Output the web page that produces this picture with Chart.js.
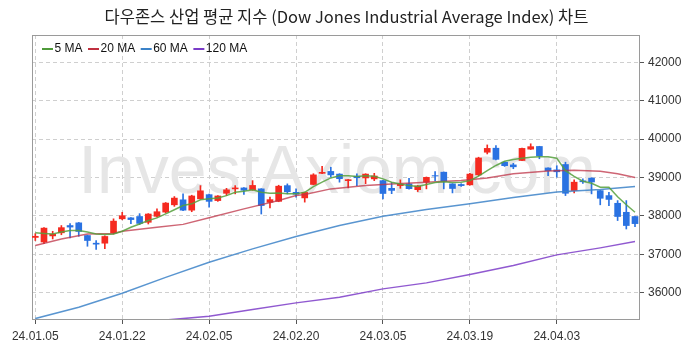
<!DOCTYPE html>
<html>
<head>
<meta charset="utf-8">
<script src="https://cdn.jsdelivr.net/npm/chart.js@4.4.1/dist/chart.umd.min.js"></script>
<style>
  html, body { margin: 0; padding: 0; background: #fff; }
  #wrap { width: 693px; height: 353px; }
</style>
</head>
<body>
<div id="wrap"><canvas id="djiChart"></canvas></div>
<script>
// trading days, 24.01.05 .. 24.04.16
const dates = [
  '24.01.05','24.01.08','24.01.09','24.01.10','24.01.11','24.01.12','24.01.16','24.01.17','24.01.18','24.01.19',
  '24.01.22','24.01.23','24.01.24','24.01.25','24.01.26','24.01.29','24.01.30','24.01.31','24.02.01','24.02.02',
  '24.02.05','24.02.06','24.02.07','24.02.08','24.02.09','24.02.12','24.02.13','24.02.14','24.02.15','24.02.16',
  '24.02.20','24.02.21','24.02.22','24.02.23','24.02.26','24.02.27','24.02.28','24.02.29','24.03.01','24.03.04',
  '24.03.05','24.03.06','24.03.07','24.03.08','24.03.11','24.03.12','24.03.13','24.03.14','24.03.15','24.03.18',
  '24.03.19','24.03.20','24.03.21','24.03.22','24.03.25','24.03.26','24.03.27','24.03.28','24.04.01','24.04.02',
  '24.04.03','24.04.04','24.04.05','24.04.08','24.04.09','24.04.10','24.04.11','24.04.12','24.04.15','24.04.16'
];

const opens = [
  37440,37320,37480,37560,37750,37820,37490,37290,37290,37560,
  37925,37950,37985,37835,37990,38100,38290,38420,38150,38445,
  38555,38400,38590,38705,38730,38680,38705,38355,38380,38790,
  38615,38470,38820,39110,39160,39090,38920,39035,38990,38965,
  38920,38720,38790,38835,38685,38880,39050,39140,38835,38820,
  38810,39070,39660,39765,39400,39330,39445,39740,39810,39250,
  39200,39340,38660,38915,38985,38660,38530,38330,38095,37985
];
const highs = [
  37540,37700,37600,37750,37800,37830,37500,37360,37480,37925,
  38095,37960,38060,38060,38185,38350,38505,38575,38540,38790,
  38570,38530,38720,38790,38740,38920,38710,38490,38800,38835,
  38705,38620,39100,39290,39270,39100,38950,39100,39100,39110,
  38930,38870,38940,38980,38795,39015,39155,39145,38840,38840,
  39110,39530,39850,39830,39410,39370,39770,39880,39815,39255,
  39310,39400,38940,38965,38995,38665,38615,38400,38400,37990
];
const lows = [
  37360,37280,37400,37510,37430,37470,37210,37125,37150,37530,
  37900,37800,37775,37790,37965,38080,38250,38140,38110,38440,
  38230,38380,38530,38575,38560,38670,38050,38210,38370,38575,
  38490,38360,38810,39100,39010,38880,38730,38790,38840,38920,
  38445,38580,38720,38700,38635,38705,38920,38705,38600,38770,
  38800,39050,39615,39460,39290,39230,39440,39730,39490,39050,
  39010,38530,38600,38850,38575,38290,38270,37880,37660,37720
];
const closes = [
  37470,37683,37525,37695,37710,37595,37360,37265,37465,37865,
  38005,37905,37805,38050,38110,38335,38465,38150,38520,38655,
  38380,38520,38680,38730,38670,38795,38270,38425,38775,38630,
  38565,38612,39070,39135,39070,38970,38945,38995,39090,39040,
  38585,38665,38830,38710,38780,39005,39040,38905,38715,38790,
  39090,39510,39760,39475,39310,39280,39760,39805,39565,39180,
  39150,38590,38880,38890,38885,38460,38430,37985,37750,37800
];

const ma5 = [
  37560,37545,37530,37580,37620,37620,37580,37530,37515,37530,
  37600,37705,37790,37880,37950,38055,38160,38270,38315,38420,
  38445,38465,38530,38615,38645,38680,38615,38590,38600,38575,
  38575,38615,38765,38880,38990,39050,39050,39025,39045,39035,
  38965,38880,38830,38790,38765,38820,38870,38890,38870,38880,
  38920,39035,39180,39315,39425,39470,39505,39530,39545,39545,
  39505,39180,39030,38905,38850,38750,38745,38500,38290,38095
];
const ma20Idx = [0, 3, 6, 9, 10, 14, 17, 20, 24, 28, 30, 31, 34, 38, 41, 45, 49, 52, 55, 59, 62, 65, 67, 69];
const ma20 = [37228,37400,37530,37540,37600,37705,37780,37955,38184,38400,38530,38560,38705,38790,38835,38878,38922,38990,39100,39170,39190,39165,39100,39000];
const ma60Idx = [0, 5, 10, 15, 20, 25, 30, 35, 40, 45, 50, 55, 60, 65, 69];
const ma60 = [35326,35620,35985,36400,36793,37142,37462,37749,37992,38170,38315,38480,38622,38687,38765];
const ma120Idx = [15, 16, 20, 25, 30, 35, 40, 45, 50, 55, 60, 65, 69];
const ma120 = [35290,35307,35385,35560,35735,35881,36100,36256,36472,36707,36986,37168,37332];

const yTicks = [36000, 37000, 38000, 39000, 40000, 41000, 42000];
const xTickIdx = [0, 10, 20, 30, 40, 50, 60];

const titleText = '다우존스 산업 평균 지수 (Dow Jones Industrial Average Index) 차트';
const watermark = 'InvestAxiom.com';

const UP = '#f52a20';
const DOWN = '#2a72e2';
const candleColors = closes.map((c, i) => c >= opens[i] ? UP : DOWN);

const pts = (idx, vals) => vals.map((v, k) => ({ x: idx[k], y: v }));
const allIdx = dates.map((d, i) => i);

const maSets = [
  { label: '5 MA', color: 'rgba(85,160,60,0.85)', key: '#4f9a3a', data: pts(allIdx, ma5) },
  { label: '20 MA', color: 'rgba(190,50,70,0.75)', key: '#c0303f', data: pts(ma20Idx, ma20) },
  { label: '60 MA', color: 'rgba(60,130,200,0.85)', key: '#3b82c8', data: pts(ma60Idx, ma60) },
  { label: '120 MA', color: 'rgba(125,60,200,0.85)', key: '#7a3cc8', data: pts(ma120Idx, ma120) }
];

const framePlugin = {
  id: 'frame',
  beforeDatasetsDraw(chart) {
    const { ctx, chartArea: a } = chart;
    ctx.save();
    ctx.font = '68px "Liberation Sans", Arial, sans-serif';
    ctx.fillStyle = '#e6e6e6';
    ctx.textAlign = 'center';
    ctx.textBaseline = 'alphabetic';
    ctx.fillText(watermark, (a.left + a.right) / 2 + 1.5, (a.top + a.bottom) / 2 + 16);
    ctx.strokeStyle = '#9a9a9a';
    ctx.lineWidth = 1;
    ctx.strokeRect(Math.round(a.left) + 0.5, Math.round(a.top) + 0.5,
      Math.round(a.right - a.left), Math.round(a.bottom - a.top));
    ctx.restore();
  },
  afterDatasetsDraw(chart) {
    const { ctx, chartArea: a } = chart;
    ctx.save();
    // legend, inside the plot, top left
    ctx.font = '12px "Liberation Sans", Arial, sans-serif';
    ctx.textBaseline = 'middle';
    ctx.fillStyle = '#111';
    let x = a.left + 10;
    const y = a.top + 14;
    maSets.forEach(s => {
      ctx.strokeStyle = s.key;
      ctx.lineWidth = 2;
      ctx.beginPath();
      ctx.moveTo(x, y);
      ctx.lineTo(x + 11, y);
      ctx.stroke();
      ctx.fillText(s.label, x + 12.5, y);
      x += 12.5 + ctx.measureText(s.label).width + 5.5;
    });
    // title, centred on the whole page
    ctx.font = '16.5px "Noto Sans CJK KR", "Noto Sans", sans-serif';
    ctx.fillStyle = '#222';
    ctx.textAlign = 'center';
    ctx.fillText(titleText, chart.width / 2, 17);
    ctx.restore();
  }
};

const ctx = document.getElementById('djiChart');

new Chart(ctx, {
  type: 'bar',
  data: {
    datasets: [
      ...maSets.map(s => ({
        type: 'line',
        label: s.label,
        data: s.data,
        borderColor: s.color,
        borderWidth: 1.5,
        pointRadius: 0,
        tension: 0,
        order: 1
      })),
      {
        label: 'body',
        data: opens.map((o, i) => ({ x: i, y: [o, closes[i]] })),
        backgroundColor: candleColors,
        barThickness: 6,
        grouped: false,
        order: 2
      },
      {
        label: 'wick',
        data: lows.map((l, i) => ({ x: i, y: [l, highs[i]] })),
        backgroundColor: candleColors,
        barThickness: 1,
        grouped: false,
        order: 3
      }
    ]
  },
  options: {
    responsive: true,
    maintainAspectRatio: false,
    animation: false,
    layout: { padding: { left: 32, right: 0, top: 35, bottom: 0 } },
    plugins: {
      legend: { display: false },
      tooltip: { enabled: false },
      title: { display: false }
    },
    scales: {
      x: {
        type: 'linear',
        offset: false,
        min: -0.38,
        max: 69.46,
        afterBuildTicks: s => { s.ticks = xTickIdx.map(v => ({ value: v })); },
        afterFit: s => { s.height = 34; },
        ticks: {
          callback: v => dates[v],
          color: '#333',
          font: { family: '"Liberation Sans", Arial, sans-serif', size: 12 },
          padding: 5,
          maxRotation: 0
        },
        grid: { offset: false, color: '#cfcfcf', tickColor: '#555', tickLength: 5 },
        border: { color: '#9a9a9a', dash: [4, 3] }
      },
      y: {
        position: 'right',
        min: 35315,
        max: 42714,
        afterBuildTicks: s => { s.ticks = yTicks.map(v => ({ value: v })); },
        afterFit: s => { s.width = 54; },
        ticks: {
          callback: v => String(v),
          color: '#333',
          font: { family: '"Liberation Sans", Arial, sans-serif', size: 12 },
          padding: 4
        },
        grid: { color: '#cfcfcf', tickColor: '#555', tickLength: 5 },
        border: { color: '#9a9a9a', dash: [4, 3] }
      }
    }
  },
  plugins: [framePlugin]
});
</script>
</body>
</html>
